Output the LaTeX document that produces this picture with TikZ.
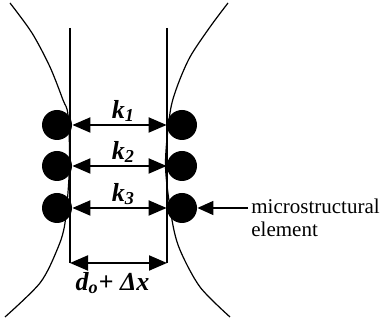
\documentclass[tikz,border=0pt]{standalone}
\usepackage{fontspec}
\setmainfont{Liberation Serif}
\usetikzlibrary{arrows.meta, positioning}

\begin{document}
\begin{tikzpicture}[x=0.5pt, y=0.5pt,
  ball/.style={circle, fill=black, minimum size=15pt, inner sep=0pt},
  dim/.style={{Triangle[length=9pt, width=7.5pt]}-{Triangle[length=9pt, width=7.5pt]}, line width=1pt},
  ptr/.style={-{Triangle[length=8pt, width=7pt]}, line width=0.7pt},
  wall/.style={line width=0.6pt},
  klabel/.style={font=\fontsize{13}{15}\selectfont\bfseries\itshape, inner sep=1pt},
  note/.style={font=\fontsize{10.5}{11.5}\selectfont, align=left, inner sep=0pt},
]
  \useasboundingbox (0,0) rectangle (381,324);

  % Neck outline
  \draw[wall] plot[smooth] coordinates {(10,321) (32,291) (50,257) (63,224) (68,209) (69.5,158) (65,101) (57,74) (40,41) (5,7)};
  \draw[wall] plot[smooth] coordinates {(228,321) (210,297) (190,267) (177,237) (170,211) (165.5,158) (172,104) (180,74) (200,37) (230,7)};

  \coordinate (lt) at (70,296);
  \coordinate (lb) at (70,61);
  \coordinate (rt) at (167,296);
  \coordinate (rb) at (167,61);
  \draw[wall] (lt) -- (lb);
  \draw[wall] (rt) -- (rb);

  \node[ball] (l1) at (57,199) {};
  \node[ball] (l2) at (57,158) {};
  \node[ball] (l3) at (57,116) {};
  \node[ball] (r1) at (182,199) {};
  \node[ball] (r2) at (182,158) {};
  \node[ball] (r3) at (182,116) {};

  \draw[dim] (l1) -- (r1) node[midway, above, klabel, xshift=2pt] {k\textsubscript{1}};
  \draw[dim] (l2) -- (r2) node[midway, above, klabel, xshift=2pt] {k\textsubscript{2}};
  \draw[dim] (l3) -- (r3) node[midway, above, klabel, xshift=2pt] {k\textsubscript{3}};
  \draw[dim] (lb) -- (rb) node[midway, below=3pt, klabel, xshift=-3pt] {d\textsubscript{o}+ Δx};

  % Pointer to element
  \coordinate (tail) at (248,116);
  \draw[ptr] (tail) -- (r3);
  \node[note, anchor=north west] (micro) at (251,125) {microstructural\\element};
\end{tikzpicture}
\end{document}
